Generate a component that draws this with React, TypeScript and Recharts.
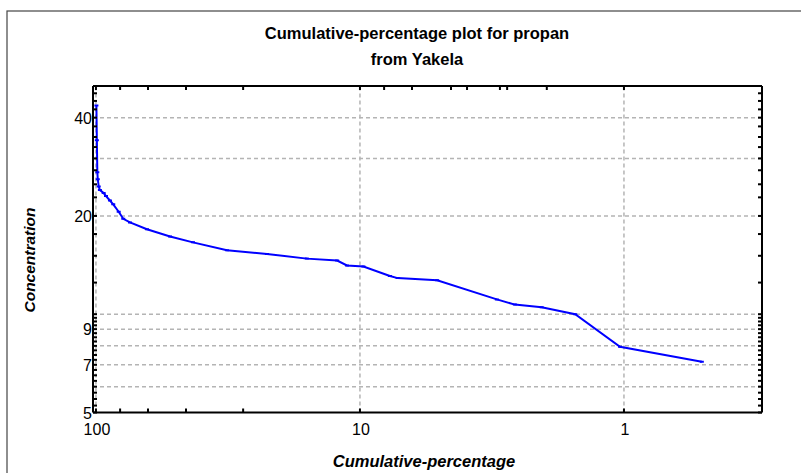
import React from 'react';
import { LineChart, Line, XAxis, YAxis, ReferenceLine } from 'recharts';

const cumPct = [99.6, 99.2, 98.8, 98.4, 97.6, 96.6, 93.5, 91.6, 88.5, 86.0, 82.0, 78.8, 74.3, 64.1, 52.4, 42.9, 31.9, 22.5, 15.9, 12.2, 11.2, 9.7, 7.7, 7.2, 5.1, 3.03, 2.59, 2.05, 1.53, 1.035, 0.507];
const concentration = [43.6, 34.1, 27.2, 25.9, 24.6, 24.0, 23.5, 23.0, 22.3, 21.7, 20.6, 19.6, 19.1, 18.2, 17.3, 16.6, 15.7, 15.3, 14.8, 14.6, 14.1, 14.0, 13.1, 12.9, 12.7, 11.1, 10.7, 10.5, 10.0, 7.95, 7.15];

const xBottomTicks = [100, 81, 63.5, 45.6, 27.7, 10, 1];
const xTopTicks = [100, 81, 63.5, 45.6, 27.7, 10, 8.1, 6.35, 4.52, 3.93, 2.95, 2.77, 1.96, 1];
const xLabelValues = [100, 10, 1];
const yTicks = [47.5, 45, 42.4, 40, 37.6, 34.9, 32.5, 30, 27.6, 25, 22.8, 20, 17.6, 15.1, 12.5, 10, 9.75, 9.5, 9.25, 9, 8.75, 8.5, 8.25, 8, 7.75, 7.5, 7.25, 7, 6.75, 6.5, 6.25, 6, 5.75, 5.5, 5.25, 5];
const yLabelValues = [5, 7, 9, 20, 40];
const hGrid = [6, 7, 8, 9, 10, 20, 30, 40];
const vGrid = [100, 10, 1];

const titleLine1 = 'Cumulative-percentage plot for propan';
const titleLine2 = 'from Yakela';
const xTitle = 'Cumulative-percentage';
const yTitle = 'Concentration';

const data = cumPct.map((x, i) => ({ x, y: concentration[i] }));

const FONT = '"Liberation Sans", Arial, sans-serif';
const W = 801;
const H = 473;
const PL = 93, PR = 762, PT = 86, PB = 412.5;
const AW = 1;

const LeftTick = (props: any) => {
  const { x, y, payload } = props;
  const ax = x + 2;
  return (
    <g>
      <line x1={ax} x2={ax + 4} y1={y} y2={y} stroke="#000" strokeWidth={2} />
      {yLabelValues.includes(payload.value) && (
        <text x={ax - 1} y={y} dy={6} textAnchor="end" fontSize={16} fontFamily={FONT} fill="#000">{payload.value}</text>
      )}
    </g>
  );
};

const RightTick = (props: any) => {
  const { x, y } = props;
  const ax = x - 2;
  return <line x1={ax} x2={ax - 4} y1={y} y2={y} stroke="#000" strokeWidth={2} />;
};

const BottomTick = (props: any) => {
  const { x, y, payload } = props;
  const ay = y - 2;
  return (
    <g>
      <line x1={x} x2={x} y1={ay} y2={ay - 4} stroke="#000" strokeWidth={2} />
      {xLabelValues.includes(payload.value) && (
        <text x={x + 1} y={ay + 22} textAnchor="middle" fontSize={16} fontFamily={FONT} fill="#000">{payload.value}</text>
      )}
    </g>
  );
};

const TopTick = (props: any) => {
  const { x, y } = props;
  const ay = y + 2;
  return <line x1={x} x2={x} y1={ay} y2={ay + 4} stroke="#000" strokeWidth={2} />;
};

const Dash = (props: any) => {
  const { cx, cy } = props;
  if (cx == null || cy == null) return <g />;
  return <line x1={cx - 2} x2={cx + 2} y1={cy} y2={cy} stroke="#0000ff" strokeWidth={2} />;
};

export default function App() {
  const axisLine = { stroke: '#000', strokeWidth: 2 };
  return (
    <div style={{ position: 'absolute', left: 0, top: 0, width: W, height: H, background: '#fff' }}>
      <svg width={W} height={H} style={{ position: 'absolute', left: 0, top: 0 }}>
        <rect x={7} y={11} width={W} height={H} fill="none" stroke="#444" strokeWidth={1.2} />
        <text x={417} y={39} textAnchor="middle" fontSize={16.5} fontWeight="bold" fontFamily={FONT}>{titleLine1}</text>
        <text x={417} y={65} textAnchor="middle" fontSize={16.5} fontWeight="bold" fontFamily={FONT}>{titleLine2}</text>
        <text x={424} y={467} textAnchor="middle" fontSize={16.5} fontWeight="bold" fontStyle="italic" fontFamily={FONT}>{xTitle}</text>
        <text x={35} y={260} textAnchor="middle" fontSize={15.5} fontWeight="bold" fontStyle="italic" fontFamily={FONT} transform="rotate(-90 35 260)">{yTitle}</text>
      </svg>
      <div style={{ position: 'absolute', left: 0, top: 0 }}>
        <LineChart width={W} height={H} data={data} margin={{ top: PT - AW, right: W - PR - AW, bottom: H - PB - AW, left: PL - AW }}>
          <XAxis xAxisId="bottom" dataKey="x" type="number" scale="log" domain={[0.3, 102.6]} allowDataOverflow reversed
            ticks={xBottomTicks} interval={0} height={AW} tickSize={0} tickMargin={2} tickLine={false} axisLine={axisLine} tick={<BottomTick />} />
          <XAxis xAxisId="top" orientation="top" dataKey="x" type="number" scale="log" domain={[0.3, 102.6]} allowDataOverflow reversed
            ticks={xTopTicks} interval={0} height={AW} tickSize={0} tickMargin={2} tickLine={false} axisLine={axisLine} tick={<TopTick />} />
          <YAxis yAxisId="left" dataKey="y" type="number" scale="log" domain={[5, 50]} allowDataOverflow
            ticks={yTicks} interval={0} width={AW} tickSize={0} tickMargin={2} tickLine={false} axisLine={axisLine} tick={<LeftTick />} />
          <YAxis yAxisId="right" orientation="right" dataKey="y" type="number" scale="log" domain={[5, 50]} allowDataOverflow
            ticks={yTicks} interval={0} width={AW} tickSize={0} tickMargin={2} tickLine={false} axisLine={axisLine} tick={<RightTick />} />
          {hGrid.map((v) => (
            <ReferenceLine key={'h' + v} xAxisId="bottom" yAxisId="left" y={v} stroke="#b4b4b4" strokeWidth={1.5} strokeDasharray="4 3" />
          ))}
          {vGrid.map((v) => (
            <ReferenceLine key={'v' + v} xAxisId="bottom" yAxisId="left" x={v} stroke="#b4b4b4" strokeWidth={1.5} strokeDasharray="4 3" />
          ))}
          <Line xAxisId="bottom" yAxisId="left" dataKey="y" type="linear" stroke="#0000ff" strokeWidth={2} dot={<Dash />} isAnimationActive={false} />
        </LineChart>
      </div>
    </div>
  );
}
